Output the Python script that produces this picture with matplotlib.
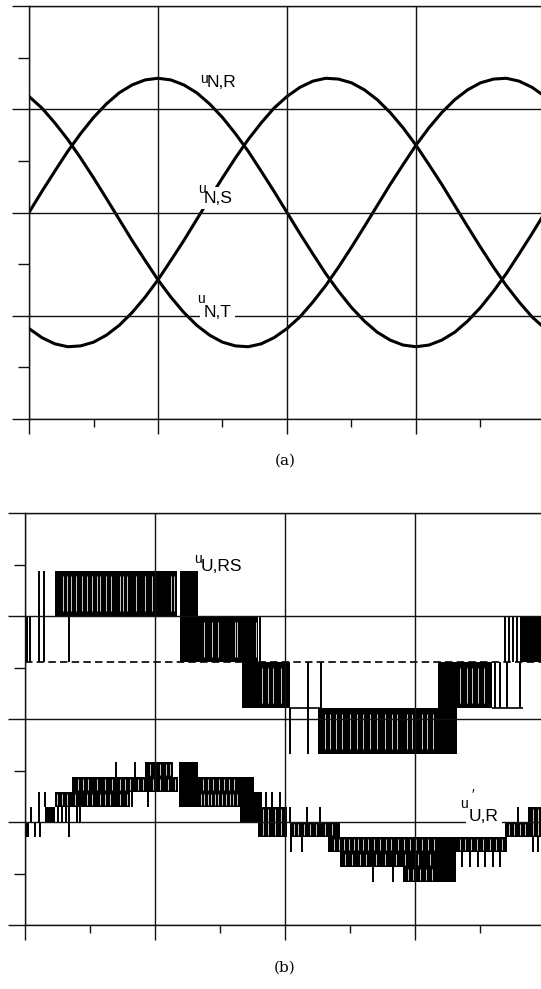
import matplotlib
matplotlib.use("Agg")
import matplotlib.pyplot as plt
import numpy as np
from matplotlib.ticker import MultipleLocator

# ---------------- data ----------------
# (a) mains phase voltages in V, sampled every 0.5 ms over 0..20 ms
t_a = np.arange(0, 20.5, 0.5)
u_NR = [0, 51, 100, 148, 191, 230, 263, 290, 309, 321, 325, 321, 309, 290, 263,
        230, 191, 148, 100, 51, 0, -51, -100, -148, -191, -230, -263, -290,
        -309, -321, -325, -321, -309, -290, -263, -230, -191, -148, -100, -51, 0]
u_NS = [-281, -303, -318, -325, -323, -314, -297, -273, -242, -205, -163, -116,
        -68, -17, 34, 84, 132, 177, 217, 253, 281, 303, 318, 325, 323, 314, 297,
        273, 242, 205, 163, 116, 68, 17, -34, -84, -132, -177, -217, -253, -281]
u_NT = [281, 253, 217, 177, 132, 84, 34, -17, -68, -116, -163, -205, -242, -273,
        -297, -314, -323, -325, -318, -303, -281, -253, -217, -177, -132, -84,
        -34, 17, 68, 116, 163, 205, 242, 273, 297, 314, 323, 325, 318, 303, 281]

# (b) switched voltages, time in ms, voltage in switching levels
# dense switching bands: (t_start, t_end, low level, high level)
rs_bands = [(0.0, 0.10, 0, 1), (1.15, 5.85, 1, 2), (5.96, 6.65, 0, 2),
            (6.65, 8.96, 0, 1), (8.35, 10.19, -1, 0), (11.27, 15.88, -2, -1),
            (15.88, 16.62, -2, 0), (16.62, 17.96, -1, 0), (19.04, 20.0, 0, 1)]
# short rests inside the bands: (t, low, high)
rs_gaps = ([(t, 1, 2) for t in [1.46, 1.62, 1.77, 1.96, 2.19, 2.38, 2.58, 2.77,
                                2.88, 3.12, 3.31, 3.65, 3.77, 3.92, 4.27, 4.62,
                                4.88, 5.62, 5.73]]
           + [(t, 0, 1) for t in [6.88, 7.21, 7.41, 8.08, 8.15, 8.87]]
           + [(t, -1, 0) for t in [9.12, 9.35, 9.54, 9.85]]
           + [(t, -2, -1) for t in [11.54, 11.73, 11.96, 12.19, 12.5, 12.77, 13.0,
                                    13.27, 13.54, 13.85, 14.12, 14.31, 14.69,
                                    14.88, 15.27, 15.46, 15.69]]
           + [(t, -1, 0) for t in [16.73, 17.0, 17.19, 17.42, 17.65]])
# single pulses: (t, low, high)
rs_pulses = [(0.2, 0, 1), (0.54, 0, 2), (0.73, 0, 2), (1.71, 0, 1), (9.04, 0, 1),
             (10.21, -2, -1), (10.88, -2, 0), (11.38, -1, 0),
             (18.08, -1, 0), (18.27, -1, 0), (18.54, -1, 0), (19.04, -1, 0),
             (18.46, 0, 1), (18.62, 0, 1), (18.77, 0, 1), (18.92, 0, 1)]
# resting level: (t_start, t_end, level)
rs_rest = [(10.19, 11.35, -1), (17.96, 19.15, -1)]

ur_bands = [(0.0, 0.15, -1, 0), (0.77, 1.15, 0, 1), (1.15, 4.04, 1, 2),
            (1.81, 5.88, 2, 3), (4.62, 5.69, 3, 4), (5.92, 6.65, 1, 4),
            (6.65, 8.27, 2, 3), (6.65, 8.27, 1, 2), (8.27, 8.81, 0, 3),
            (8.81, 9.12, 0, 2), (8.96, 10.08, -1, 1), (10.19, 12.12, -1, 0),
            (11.65, 15.96, -2, -1), (12.12, 15.96, -3, -2), (14.54, 15.88, -4, -3),
            (15.88, 16.58, -4, -1), (16.58, 18.54, -2, -1), (18.46, 19.42, -1, 0),
            (19.35, 20.0, -1, 1)]
ur_gaps = ([(t, 1, 2) for t in [1.23, 1.42, 1.62, 1.92, 2.38, 2.58, 2.88, 3.08,
                                3.27, 3.65, 3.92]]
           + [(t, 2, 3) for t in [2.04, 2.23, 2.42, 2.77, 3.08, 3.35, 3.65, 3.85,
                                  4.04, 4.35, 4.54, 4.92, 5.19, 5.5, 5.77]]
           + [(t, 3, 4) for t in [4.81, 5.0, 5.19, 5.42, 5.58]]
           + [(t, 2, 3) for t in [6.85, 7.04, 7.23, 7.46, 7.65, 7.85, 8.04]]
           + [(t, 1, 2) for t in [6.77, 6.88, 7.04, 7.15, 7.31, 7.42, 7.58, 7.73,
                                  7.88, 8.0, 8.15]]
           + [(t, -1, 1) for t in [9.15, 9.35, 9.62, 9.85]]
           + [(t, -1, 0) for t in [10.35, 10.5, 10.73, 10.96, 11.19, 11.54, 11.81]]
           + [(t, -2, -1) for t in [11.88, 12.08, 12.27, 12.46, 12.65, 12.81, 13.0,
                                    13.19, 13.42, 13.65, 13.88, 14.08, 14.35,
                                    14.58, 14.81, 15.04, 15.27, 15.5, 15.73]]
           + [(t, -3, -2) for t in [12.31, 12.58, 12.88, 13.12, 13.5, 13.85, 14.27,
                                    14.62, 15.12, 15.58]]
           + [(t, -4, -3) for t in [14.73, 14.92, 15.19, 15.42, 15.65]]
           + [(t, -2, -1) for t in [16.73, 16.92, 17.15, 17.38, 17.62, 17.88,
                                    18.12, 18.35]]
           + [(t, -1, 0) for t in [18.62, 18.81, 19.04, 19.23]]
           + [(t, -1, 1) for t in [19.54, 19.73]])
ur_pulses = [(0.23, 0, 1), (0.38, -1, 0), (0.58, -1, 0), (0.54, 0, 2), (0.77, 1, 2),
             (1.27, 0, 1), (1.42, 0, 1), (1.58, 0, 1), (2.0, 0, 1), (2.12, 0, 1),
             (1.69, -1, 1), (3.5, 2, 4), (4.23, 2, 4), (4.12, 1, 2), (4.73, 1, 2),
             (9.27, 1, 2), (9.5, 1, 2), (9.81, 1, 2),
             (10.19, 0, 1), (10.85, 0, 1), (11.35, 0, 1),
             (10.23, -2, -1), (10.65, -2, -1), (13.38, -4, -3), (14.15, -4, -3),
             (16.81, -3, -2), (17.12, -3, -2), (17.42, -3, -2), (17.69, -3, -2),
             (18.0, -3, -2), (18.27, -3, -2), (18.96, 0, 1), (19.42, 0, 1),
             (19.54, -2, -1), (19.73, -2, -1)]

# trace placement in panel (b): zero line and height of one level
rs_zero, rs_step = 0.55, 0.445
ur_zero, ur_step = -1.0, 0.1456

FONT = ['Liberation Sans', 'DejaVu Sans']
PX = 0.72  # points per pixel

# ---------------- figure ----------------
fig = plt.figure(figsize=(5.41, 9.89), dpi=100)
ax_a = fig.add_axes([29 / 541, 1 - 419 / 989, 516 / 541, 413 / 989])
ax_b = fig.add_axes([25 / 541, 1 - 925 / 989, 520 / 541, 412 / 989])


def setup(ax, lim, major, minor):
    ax.set_xlim(0, 20)
    ax.set_ylim(-lim, lim)
    ax.xaxis.set_major_locator(MultipleLocator(5))
    ax.xaxis.set_minor_locator(MultipleLocator(2.5))
    ax.yaxis.set_major_locator(MultipleLocator(major))
    ax.yaxis.set_minor_locator(MultipleLocator(minor))
    ax.set_axisbelow(False)
    ax.grid(True, which='major', color='#111111', lw=1.0)
    ax.tick_params(which='both', direction='out', width=1.0, color='#111111',
                   labelleft=False, labelbottom=False)
    ax.tick_params(axis='x', which='major', length=10.5)
    ax.tick_params(axis='y', which='major', length=12)
    ax.tick_params(axis='x', which='minor', length=6)
    ax.tick_params(axis='y', which='minor', length=8)
    for s in ax.spines.values():
        s.set_linewidth(1.0)
        s.set_color('#111111')
    ax.spines['right'].set_visible(False)


def label(ax, x, y, sub, udx, udy, prime=False):
    box = dict(boxstyle='square,pad=0.2', fc='white', ec='none')
    ax.annotate(sub, (x, y), fontsize=12.5, family=FONT, ha='left', va='baseline',
                bbox=box, zorder=6)
    ax.annotate('u', (x, y), xytext=(udx * PX, udy * PX), textcoords='offset points',
                fontsize=10, family=FONT, ha='left', va='baseline', zorder=7)
    if prime:
        ax.annotate('\u2032', (x, y), xytext=(2 * PX, 22 * PX), textcoords='offset points',
                    fontsize=10, family=FONT, ha='left', va='baseline', zorder=7)


def draw_trace(ax, bands, gaps, pulses, zero, step, rest=()):
    lev = lambda k: zero + k * step
    for t0, t1, lo, hi in bands:
        ax.fill_between([t0, t1], lev(lo), lev(hi), color='black', lw=0, zorder=1)
    m = 0.12 * step
    for t, lo, hi in gaps:
        ax.vlines(t, lev(lo) + m, lev(hi) - m, color='white', lw=0.55, zorder=1.2)
    for t, lo, hi in pulses:
        ax.vlines(t, lev(lo), lev(hi), color='black', lw=1.4, zorder=2)
    for t0, t1, k in rest:
        ax.hlines(lev(k), t0, t1, color='black', lw=1.2, zorder=2)


# ---- (a) ----
setup(ax_a, 500, 250, 125)
for u in (u_NR, u_NS, u_NT):
    ax_a.plot(t_a, u, color='black', lw=2.2, zorder=2)
label(ax_a, 6.9, 304, 'N,R', -7, 4)
label(ax_a, 6.78, 24, 'N,S', -6, 10)
label(ax_a, 6.78, -254, 'N,T', -7, 14)

# ---- (b) ----
setup(ax_b, 2, 1, 0.5)
ax_b.axhline(rs_zero, color='black', lw=1.2, ls=(0, (4.5, 2.5)), zorder=0.8)
draw_trace(ax_b, rs_bands, rs_gaps, rs_pulses, rs_zero, rs_step, rs_rest)
draw_trace(ax_b, ur_bands, ur_gaps, ur_pulses, ur_zero, ur_step)
label(ax_b, 6.77, 1.437, 'U,RS', -7, 8)
label(ax_b, 17.08, -0.99, 'U,R', -9, 13, prime=True)

fig.text(285 / 541, 1 - 461 / 989, '(a)', ha='center', va='center',
         family='DejaVu Serif', fontsize=11)
fig.text(285 / 541, 1 - 968 / 989, '(b)', ha='center', va='center',
         family='DejaVu Serif', fontsize=11)

fig.savefig('out.png', dpi=100)
